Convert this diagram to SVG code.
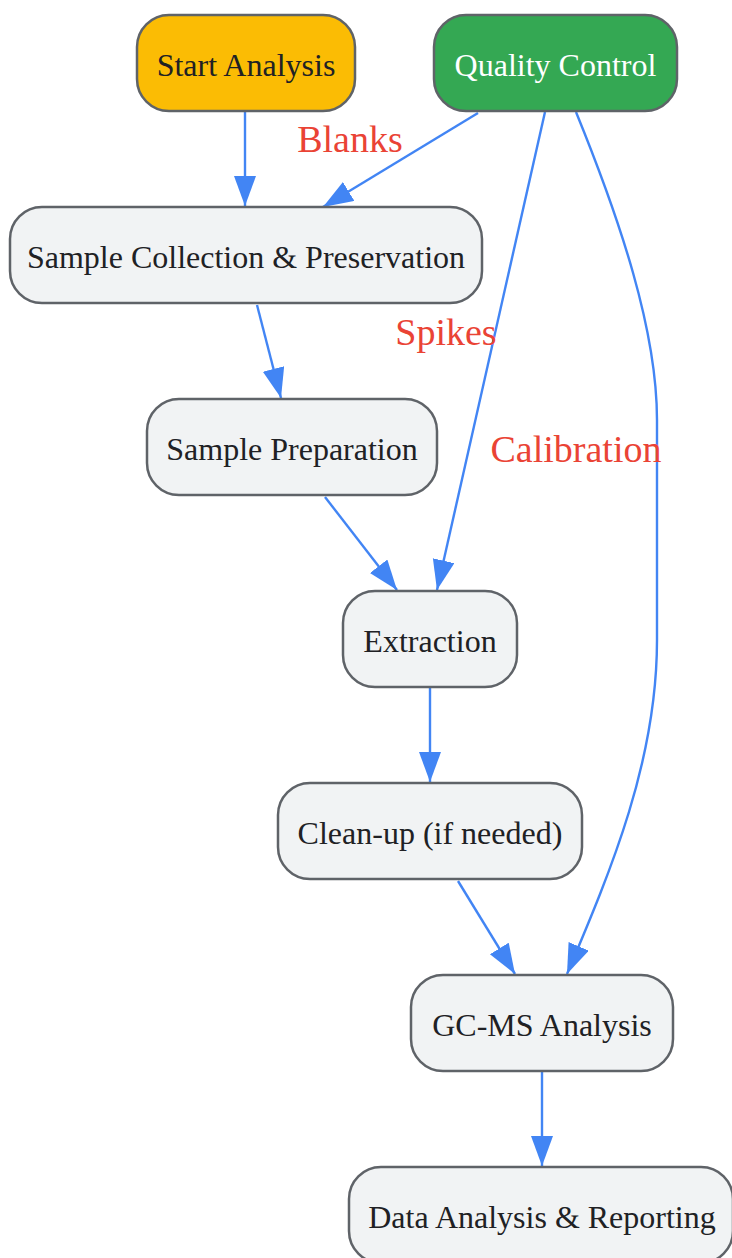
<svg xmlns="http://www.w3.org/2000/svg" width="732" height="1258" viewBox="0 0 732 1258">
<style>
.node rect{fill:#F1F3F4;stroke:#5F6368;stroke-width:2.5}
.node text{font-family:"Liberation Serif",serif;font-size:32px;fill:#202124;text-anchor:middle;dominant-baseline:central}
#start rect{fill:#FBBC04}
#qc rect{fill:#34A853}
#qc text{fill:#FFFFFF}
.edge{fill:none;stroke:#4285F4;stroke-width:2.4;marker-end:url(#arrow)}
.lbl{font-family:"Liberation Serif",serif;font-size:38px;fill:#EA4335;text-anchor:middle;dominant-baseline:central}
</style>
<defs>
<marker id="arrow" markerUnits="userSpaceOnUse" markerWidth="32" markerHeight="24" refX="30" refY="11" orient="auto" viewBox="0 0 32 24">
<path d="M0,0 L30,11 L0,22 z" fill="#4285F4"/>
</marker>
</defs>
<rect width="732" height="1258" fill="#FFFFFF"/>
<g id="edges">
<path class="edge" d="M245,112 L245,206"/>
<path class="edge" d="M478,113 L323,207"/>
<path class="edge" d="M545,112 L437,590"/>
<path class="edge" d="M576,112 C620,220 657,330 657,420 L657,640 C657,760 612,868 567,974"/>
<path class="edge" d="M257,305 L281,398"/>
<path class="edge" d="M325,497 L397,590"/>
<path class="edge" d="M430,688 L430,782"/>
<path class="edge" d="M458,881 L515,974"/>
<path class="edge" d="M542,1072 L542,1166"/>
<text class="lbl" x="350" y="139">Blanks</text>
<text class="lbl" x="446" y="332">Spikes</text>
<text class="lbl" x="576" y="449">Calibration</text>
</g>
<g id="start" class="node"><rect x="137" y="15" width="218" height="96" rx="32"/><text x="246" y="65">Start Analysis</text></g>
<g id="qc" class="node"><rect x="434" y="15" width="243" height="96" rx="32"/><text x="555.5" y="65">Quality Control</text></g>
<g id="collect" class="node"><rect x="10" y="207" width="472" height="96" rx="32"/><text x="246" y="257">Sample Collection &amp; Preservation</text></g>
<g id="prep" class="node"><rect x="147" y="399" width="290" height="96" rx="32"/><text x="292" y="449">Sample Preparation</text></g>
<g id="extract" class="node"><rect x="343" y="591" width="174" height="96" rx="32"/><text x="430" y="641">Extraction</text></g>
<g id="cleanup" class="node"><rect x="278" y="783" width="304" height="96" rx="32"/><text x="430" y="833">Clean-up (if needed)</text></g>
<g id="gcms" class="node"><rect x="411" y="975" width="262" height="96" rx="32"/><text x="542" y="1025">GC-MS Analysis</text></g>
<g id="report" class="node"><rect x="349" y="1167" width="384" height="96" rx="32"/><text x="542" y="1217">Data Analysis &amp; Reporting</text></g>
</svg>
